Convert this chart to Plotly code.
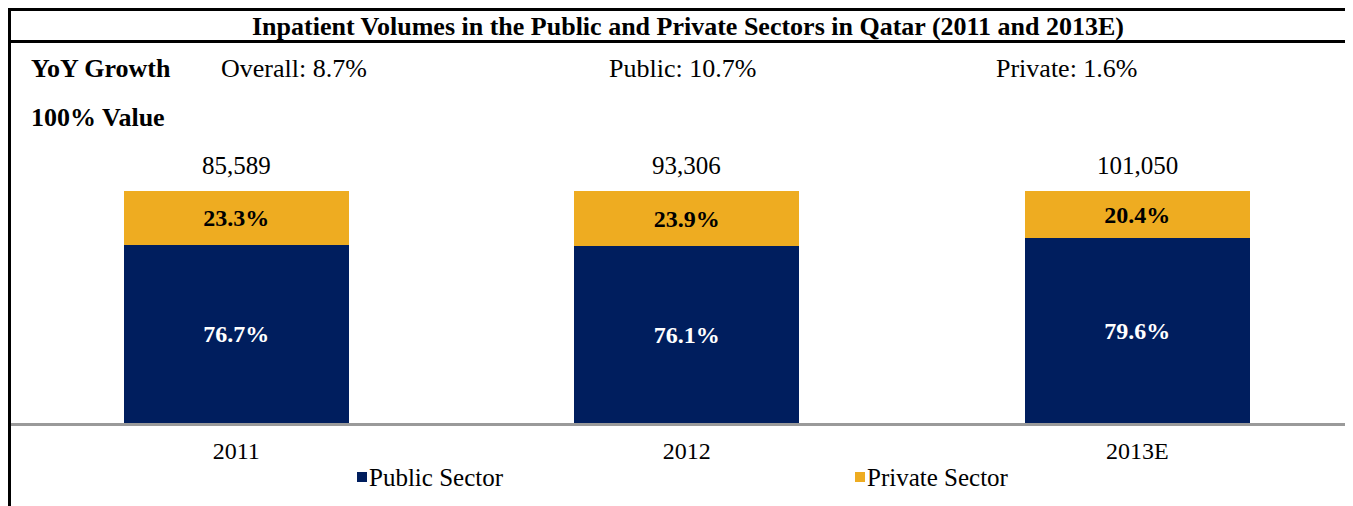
import plotly.graph_objects as go

years = ["2011", "2012", "2013E"]
public_share = [76.7, 76.1, 79.6]
private_share = [23.3, 23.9, 20.4]
totals = [85589, 93306, 101050]
growth_labels = ["Overall: 8.7%", "Public: 10.7%", "Private: 1.6%"]

NAVY = "#001E5E"
GOLD = "#EEAC21"
FONT = "Liberation Serif"

OFF = 8  # page body margin of the html page
W, H = 1353 - OFF, 506 - OFF
L, R, T, B = 11 - OFF, 6, 191 - OFF, 83  # plot area in pixels
pw = W - L - R
ph = H - T - B
step = 450.5  # pixels between bar centres
PAD = 3  # annotation inner padding


# screen pixel -> paper coords, for the frame and the header texts
def px(x):
    return (x - OFF - L) / pw


def py(y):
    return (H - B - (y - OFF)) / ph


fig = go.Figure()
fig.add_trace(go.Bar(
    x=years, y=public_share, name="Public Sector", marker_color=NAVY,
    width=0.5, marker_line_width=0,
    text=[f"{v:.1f}%" for v in public_share],
    textposition="inside", insidetextanchor="middle", textangle=0,
    textfont=dict(family=FONT, size=24, color="white", weight="bold"),
))
fig.add_trace(go.Bar(
    x=years, y=private_share, name="Private Sector", marker_color=GOLD,
    width=0.5, marker_line_width=0,
    text=[f"{v:.1f}%" for v in private_share],
    textposition="inside", insidetextanchor="middle", textangle=0,
    textfont=dict(family=FONT, size=24, color="black", weight="bold"),
))

annotations = []
# totals above the bars (category index, "2011" would be read as a number)
for i, tot in enumerate(totals):
    annotations.append(dict(x=i, y=100, xref="x", yref="y", text=f"{tot:,}",
                            showarrow=False, yanchor="middle", yshift=26,
                            font=dict(family=FONT, size=25, color="black")))

# header
annotations.append(dict(x=px(688), y=py(26), xref="paper", yref="paper",
                        text="Inpatient Volumes in the Public and Private Sectors in Qatar (2011 and 2013E)",
                        showarrow=False, xanchor="center", yanchor="middle",
                        font=dict(family=FONT, size=26, color="black", weight="bold")))
annotations.append(dict(x=px(32 - PAD), y=py(69), xref="paper", yref="paper", text="YoY Growth",
                        showarrow=False, xanchor="left", yanchor="middle",
                        font=dict(family=FONT, size=26, color="black", weight="bold")))
annotations.append(dict(x=px(32 - PAD), y=py(118), xref="paper", yref="paper", text="100% Value",
                        showarrow=False, xanchor="left", yanchor="middle",
                        font=dict(family=FONT, size=26, color="black", weight="bold")))
for xl, lab in zip([222, 610, 997], growth_labels):
    annotations.append(dict(x=px(xl - PAD), y=py(69), xref="paper", yref="paper", text=lab,
                            showarrow=False, xanchor="left", yanchor="middle",
                            font=dict(family=FONT, size=26, color="black")))

# legend drawn by hand so the entries sit where the original has them
shapes = []
for xs, name, col in [(357, "Public Sector", NAVY), (855, "Private Sector", GOLD)]:
    shapes.append(dict(type="rect", xref="paper", yref="paper",
                       x0=px(xs), x1=px(xs + 10), y0=py(482), y1=py(472),
                       fillcolor=col, line_width=0))
    annotations.append(dict(x=px(xs + 13 - PAD), y=py(477), xref="paper", yref="paper", text=name,
                            showarrow=False, xanchor="left", yanchor="middle",
                            font=dict(family=FONT, size=25, color="black")))

# frame
line = dict(color="black", width=3)
shapes += [
    dict(type="line", xref="paper", yref="paper", x0=px(8), x1=px(1350), y0=py(9.5), y1=py(9.5), line=line),
    dict(type="line", xref="paper", yref="paper", x0=px(8), x1=px(1350), y0=py(41.5), y1=py(41.5), line=line),
    dict(type="line", xref="paper", yref="paper", x0=px(9.5), x1=px(9.5), y0=py(8), y1=py(510), line=line),
    dict(type="line", xref="paper", yref="paper", x0=px(1348.5), x1=px(1348.5), y0=py(8), y1=py(510), line=line),
]

fig.update_layout(
    barmode="stack",
    width=W, height=H,
    margin=dict(l=L, r=R, t=T, b=B),
    paper_bgcolor="white", plot_bgcolor="white",
    showlegend=False,
    annotations=annotations,
    shapes=shapes,
)
fig.update_xaxes(range=[-0.5, -0.5 + pw / step], showline=True, linecolor="#9A9A9A", linewidth=3,
                 showgrid=False, zeroline=False, ticks="", ticklabelstandoff=4,
                 tickfont=dict(family=FONT, size=24, color="black"))
fig.update_yaxes(range=[0, 100], visible=False, showgrid=False, zeroline=False)

fig.write_html("out.html")
